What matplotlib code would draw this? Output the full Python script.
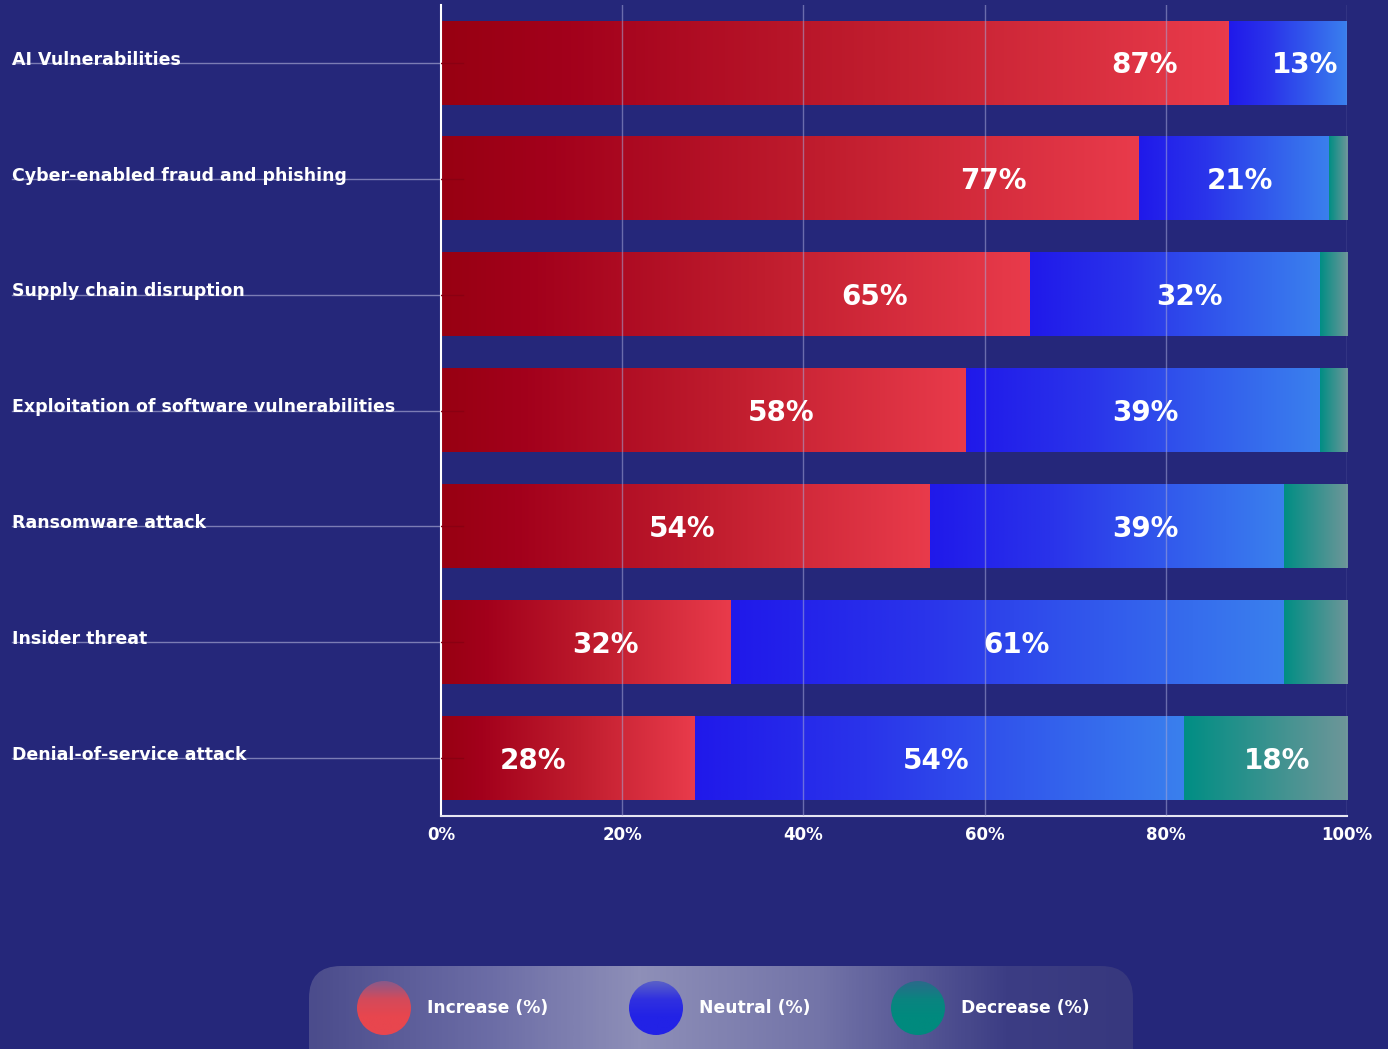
import numpy as np
import matplotlib
matplotlib.use("Agg")
import matplotlib.pyplot as plt
from matplotlib.colors import LinearSegmentedColormap
from matplotlib.patches import FancyBboxPatch, Circle

# data
categories = [
    "AI Vulnerabilities",
    "Cyber-enabled fraud and phishing",
    "Supply chain disruption",
    "Exploitation of software vulnerabilities",
    "Ransomware attack",
    "Insider threat",
    "Denial-of-service attack",
]
increase = [87, 77, 65, 58, 54, 32, 28]
neutral = [13, 21, 32, 39, 39, 61, 54]
decrease = [0, 2, 3, 3, 7, 7, 18]
tick_vals = [0, 20, 40, 60, 80, 100]
legend_names = ["Increase (%)", "Neutral (%)", "Decrease (%)"]

# where the value labels sit (percent along the axis)
inc_label_x = [77.7, 61.0, 47.8, 37.5, 26.6, 18.1, 10.1]
neu_label_x = [95.4, 88.2, 82.6, 77.8, 77.8, 63.5, 54.6]

BG = "#25277a"
plt.rcParams['font.family'] = ['DejaVu Sans']

red_cm = LinearSegmentedColormap.from_list(
    "r", [(0, "#980012"), (0.15, "#a2001b"), (0.55, "#c01d2e"), (1, "#e93b4b")])
blue_cm = LinearSegmentedColormap.from_list(
    "b", [(0, "#2019ea"), (0.35, "#2a34ea"), (1, "#3a80ee")])
teal_cm = LinearSegmentedColormap.from_list("t", ["#008e84", "#6e9699"])
grad = np.linspace(0, 1, 256).reshape(1, -1)

fig = plt.figure(figsize=(13.88, 10.49), dpi=100, facecolor=BG)
ax = fig.add_axes([441 / 1388, 1 - 816 / 1049, 906 / 1388, 811 / 1049])
ax.set_facecolor(BG)

h = 0.72
y = np.arange(len(categories))
dy = 0.022  # value labels sit a touch below bar centre


def grad_bar(left, width, yc, cmap):
    if width <= 0:
        return
    ax.imshow(grad, cmap=cmap, aspect="auto", interpolation="bilinear",
              extent=[left, left + width, yc + h / 2, yc - h / 2], zorder=2)


for i in range(len(categories)):
    grad_bar(0, increase[i], y[i], red_cm)
    grad_bar(increase[i], neutral[i], y[i], blue_cm)
    grad_bar(increase[i] + neutral[i], decrease[i], y[i], teal_cm)

    ax.text(inc_label_x[i], y[i] + dy, f"{increase[i]}%", color="white", fontsize=20,
            fontweight="bold", ha="center", va="center", zorder=5)
    ax.text(neu_label_x[i], y[i] + dy, f"{neutral[i]}%", color="white", fontsize=20,
            fontweight="bold", ha="center", va="center", zorder=5)
    if decrease[i] >= 10:
        ax.text(increase[i] + neutral[i] + decrease[i] / 2 + 1.3, y[i] + dy,
                f"{decrease[i]}%", color="white", fontsize=20, fontweight="bold",
                ha="center", va="center", zorder=5)

    # category label with leader line
    tr = ax.get_yaxis_transform()
    ax.plot([-0.4735, 0], [y[i], y[i]], transform=tr, color="#7b7cb4", lw=1,
            clip_on=False, zorder=1)
    ax.plot([0, 2.4], [y[i], y[i]], color="#8a0012", lw=1, zorder=3)
    ax.text(-0.4735, y[i] + 0.015, categories[i], transform=tr, color="white",
            fontsize=12.5, fontweight="bold", ha="left", va="baseline")

ax.set_xlim(0, 100)
ax.set_ylim(len(categories) - 0.5, -0.5)

for v in tick_vals[1:]:
    ax.axvline(v, color="#a4a6d6", lw=1, alpha=0.55, zorder=4)

ax.set_yticks([])
ax.set_xticks(tick_vals)
ax.set_xticklabels([f"{v}%" for v in tick_vals], color="white", fontsize=12,
                   fontweight="bold")
ax.tick_params(axis="x", length=0, pad=7)
for s in ["top", "right"]:
    ax.spines[s].set_visible(False)
ax.spines["left"].set_color("white")
ax.spines["left"].set_linewidth(1.5)
ax.spines["bottom"].set_color("#e6e6f2")
ax.spines["bottom"].set_linewidth(1.5)

# legend panel
lax = fig.add_axes([0, 0, 1, 130 / 1049])
lax.set_xlim(0, 1388)
lax.set_ylim(1049, 919)
lax.axis("off")
panel = FancyBboxPatch((309, 966), 824, 130, boxstyle="round,pad=0,rounding_size=32",
                       facecolor="none", edgecolor="none")
lax.add_patch(panel)
panel_cm = LinearSegmentedColormap.from_list(
    "p", [(0, "#4b4c8c"), (0.22, "#6c6da6"), (0.4, "#8e8fb8"), (0.62, "#7374a8"),
          (0.85, "#3c3d84"), (1, "#37387e")])
im = lax.imshow(grad, cmap=panel_cm, aspect="auto", interpolation="bilinear",
                extent=[309, 1133, 1096, 966])
im.set_clip_path(panel)

legend_cms = [
    LinearSegmentedColormap.from_list("lr", ["#e8464e", "#e8464e", "#d44a5a", "#8a5a8a"]),
    LinearSegmentedColormap.from_list("lb", ["#2222e6", "#2222e6", "#3030e0", "#5a60c8"]),
    LinearSegmentedColormap.from_list("lt", ["#008a7e", "#008a7e", "#0a8480", "#2a6a8a"]),
]
legend_cx = [384, 656, 918]
for cx, name, cm in zip(legend_cx, legend_names, legend_cms):
    circ = Circle((cx, 1008), 27, facecolor="none", edgecolor="none")
    lax.add_patch(circ)
    vg = np.linspace(1, 0, 64).reshape(-1, 1)
    ci = lax.imshow(vg, cmap=cm, aspect="auto", interpolation="bilinear",
                    extent=[cx - 27, cx + 27, 1035, 981])
    ci.set_clip_path(circ)
    lax.text(cx + 43, 1008, name, color="white", fontsize=12.3, fontweight="bold",
             ha="left", va="center")

fig.savefig("out.png", dpi=100, facecolor=BG)
